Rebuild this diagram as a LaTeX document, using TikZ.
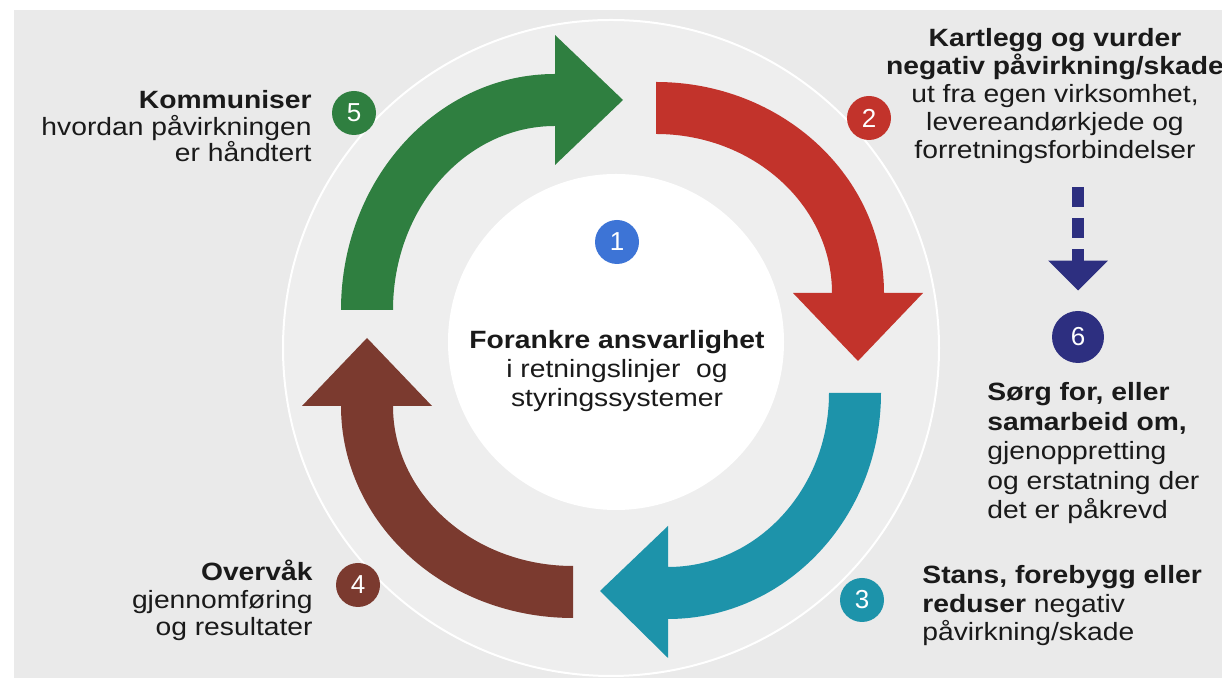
\documentclass[tikz,border=0pt]{standalone}
\usepackage{fontspec}
\setmainfont[FakeStretch=1.13]{Liberation Sans}
\newfontfamily\numfont{Liberation Sans}
\usetikzlibrary{arrows.meta}
\definecolor{pagebg}{HTML}{EAEAEA}
\definecolor{ringbg}{HTML}{EEEEEE}
\definecolor{cgreen}{HTML}{2F7F40}
\definecolor{cred}{HTML}{C2332B}
\definecolor{cteal}{HTML}{1D93AA}
\definecolor{cbrown}{HTML}{7B3A2F}
\definecolor{cblue}{HTML}{3D74D6}
\definecolor{cnavy}{HTML}{2D2F80}
\definecolor{txt}{HTML}{1A1A1A}
\begin{document}
\begin{tikzpicture}[x=0.5pt,y=0.5pt,
  bandshape/.style={draw=none},
  num/.style={circle, inner sep=0pt, minimum size=22pt, text=white,
    font=\numfont\fontsize{13}{13}\selectfont},
  lbl/.style={inner sep=0pt, text=txt, font=\fontsize{12.5}{#1}\selectfont},
  lbl/.default=14pt,
  dasharrow/.style={cnavy, line width=6pt, dash pattern=on 10pt off 5.5pt,
    -{Triangle[width=29pt,length=15pt]}, shorten >=10pt}
]
\useasboundingbox (0,0) rectangle (1222,678);
% page
\fill[white] (0,0) rectangle (1222,678);
\fill[pagebg] (14,0) rectangle (1222,668);
% big ring and centre disc
\draw[white, line width=1pt, fill=ringbg] (611,330) circle[radius=328];
\fill[white] (616,336) circle[radius=168];

% green arrow (left -> top)
\fill[cgreen, bandshape] (341,368) arc[start angle=180, end angle=90, x radius=214, y radius=236]
  -- (555,643) -- (623,578) -- (555,513) -- (555,552)
  arc[start angle=90, end angle=180, x radius=162, y radius=184] -- cycle;
% red arrow (top -> right)
\fill[cred, bandshape] (656,596) arc[start angle=90, end angle=0, x radius=228, y radius=211]
  -- (923,385) -- (858,317) -- (793,385) -- (832,385)
  arc[start angle=0, end angle=90, x radius=176, y radius=159] -- cycle;
% teal arrow (right -> bottom)
\fill[cteal, bandshape] (881,285) arc[start angle=0, end angle=-90, x radius=213, y radius=226]
  -- (668,20) -- (600,87) -- (668,152) -- (668,111)
  arc[start angle=-90, end angle=0, x radius=161, y radius=174] -- cycle;
% brown arrow (bottom -> left)
\fill[cbrown, bandshape] (573,60) arc[start angle=-90, end angle=-180, x radius=232, y radius=212]
  -- (302,272) -- (367,340) -- (432,272) -- (393,272)
  arc[start angle=-180, end angle=-90, x radius=180, y radius=160] -- cycle;

% number circles
\node[num, fill=cblue] (n1) at (617,436) {1};
\node[num, fill=cred] (n2) at (869,560) {2};
\node[num, fill=cteal] (n3) at (862,78) {3};
\node[num, fill=cbrown] (n4) at (358,93) {4};
\node[num, fill=cgreen] (n5) at (354,565) {5};
\node[num, fill=cnavy, minimum size=26pt] (n6) at (1078,341) {6};

% texts (base anchor = baseline of the last line)
\node[lbl=14.5pt, align=center, anchor=base] (t1) at (617,271)
  {\textbf{Forankre ansvarlighet}\\i retningslinjer\ \ og\\styringssystemer};
\node[lbl=14pt, align=center, anchor=base] (t2) at (1055,519)
  {\textbf{Kartlegg og vurder}\\\textbf{negativ påvirkning/skade}\\ut fra egen virksomhet,\\levereandørkjede og\\forretningsforbindelser};
\node[lbl=14.25pt, align=left, anchor=base west] (t3) at (922,37)
  {\textbf{Stans, forebygg eller}\\\textbf{reduser} negativ\\påvirkning/skade};
\node[lbl=13.75pt, align=right, anchor=base east] (t4) at (313,42)
  {\textbf{Overvåk}\\gjennomføring\\og resultater};
\node[lbl=13.25pt, align=right, anchor=base east] (t5) at (312,516)
  {\textbf{Kommuniser}\\hvordan påvirkningen\\er håndtert};
\node[lbl=14.75pt, align=left, anchor=base west] (t6) at (987,159)
  {\textbf{Sørg for, eller}\\\textbf{samarbeid om,}\\gjenoppretting\\og erstatning der\\det er påkrevd};

% dashed arrow from step 2 to step 6
\coordinate (dtop) at (1078,491);
\draw[dasharrow] (dtop) -- (n6.north);
\end{tikzpicture}
\end{document}
